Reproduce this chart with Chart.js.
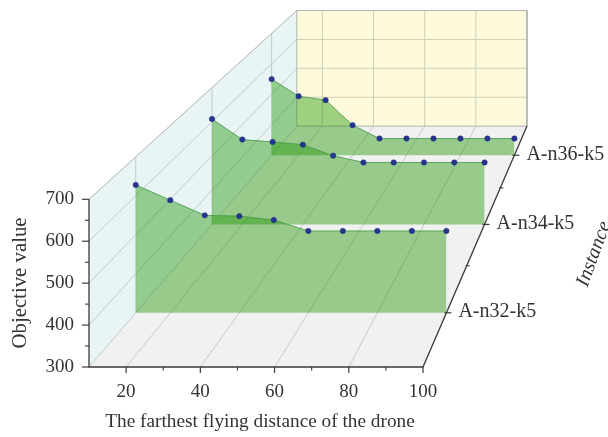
<!DOCTYPE html>
<html lang="en">
<head>
  <meta charset="UTF-8">
  <title>Objective value by drone distance</title>
  <script src="https://cdn.jsdelivr.net/npm/chart.js"></script>
  <style>
    html, body { margin: 0; padding: 0; background: #fff; }
    canvas { display: block; }
  </style>
</head>
<body>
  <canvas id="chart" width="608" height="437"></canvas>
  <script>
    // data
    const distances = [10, 20, 30, 40, 50, 60, 70, 80, 90, 100];
    const instances = ['A-n32-k5', 'A-n34-k5', 'A-n36-k5'];
    const n32 = [628, 589, 550, 548, 538, 510, 510, 510, 510, 510];
    const n34 = [608, 548, 541, 533, 501, 481, 481, 481, 481, 481];
    const n36 = [550, 494, 481, 399, 355, 355, 355, 355, 355, 355];
    const distanceTicks = [20, 40, 60, 80, 100];
    const distanceMinor = [30, 50, 70, 90];
    const valueTicks = [300, 400, 500, 600, 700];
    const valueMinor = [350, 450, 550, 650];

    // box limits and perspective of the 3d view
    const distMin = 10, distMax = 100, valMin = 300, valMax = 700;
    const left = 89, right = 423, bottom = 367, top3d = 199.3;
    const vanishX = 757.6, vanishY = -408, depthK = 0.451;

    function project(dist, depth, value) {
      const s = 1 / (1 + depthK * depth);
      const X = left + (dist - distMin) * (right - left) / (distMax - distMin);
      const Y = bottom - (value - valMin) * (bottom - top3d) / (valMax - valMin);
      return { x: vanishX + (X - vanishX) * s, y: vanishY + (Y - vanishY) * s };
    }
    // instance i sits in the middle of its third of the depth
    const depthOf = i => (i + 0.5) / instances.length;

    const datasets = [];
    function addLine(points, color, width) {
      datasets.push({ data: points, borderColor: color, borderWidth: width, pointRadius: 0, showLine: true, fill: false });
    }
    // filled area between an upper and a lower edge, both running left to right
    function addShape(upper, lower, color) {
      const edge = { borderColor: 'rgba(0,0,0,0)', borderWidth: 0, pointRadius: 0, showLine: true };
      datasets.push(Object.assign({ data: lower, fill: false }, edge));
      datasets.push(Object.assign({ data: upper, backgroundColor: color, fill: datasets.length - 1 }, edge));
    }

    const floorGrid = '#c9c9c9';
    const wallGrid = '#bccbcf';
    const backGrid = '#cfcfb4';
    const frameColor = '#aeb3b3';
    const axisColor = '#3a3a3a';

    // floor, side wall, back wall
    addShape([project(distMin, 0, valMin), project(distMin, 1, valMin), project(distMax, 1, valMin)],
      [project(distMin, 0, valMin), project(distMax, 0, valMin), project(distMax, 1, valMin)], '#f1f1f1');
    addShape([project(distMin, 0, valMax), project(distMin, 1, valMax)],
      [project(distMin, 0, valMin), project(distMin, 1, valMin)], '#e9f4f5');
    addShape([project(distMin, 1, valMax), project(distMax, 1, valMax)],
      [project(distMin, 1, valMin), project(distMax, 1, valMin)], '#fefbdd');

    // grid
    distanceTicks.slice(0, -1).forEach(d => {
      addLine([project(d, 0, valMin), project(d, 1, valMin)], floorGrid, 1);
      addLine([project(d, 1, valMin), project(d, 1, valMax)], backGrid, 1);
    });
    valueTicks.slice(1, -1).forEach(v => {
      addLine([project(distMin, 0, v), project(distMin, 1, v)], wallGrid, 1);
      addLine([project(distMin, 1, v), project(distMax, 1, v)], backGrid, 1);
    });
    instances.forEach((name, i) => {
      addLine([project(distMin, depthOf(i), valMin), project(distMin, depthOf(i), valMax)], wallGrid, 1);
    });
    // frame of the walls
    addLine([project(distMin, 0, valMin), project(distMin, 1, valMin)], wallGrid, 1);
    addLine([project(distMin, 0, valMax), project(distMin, 1, valMax), project(distMax, 1, valMax), project(distMax, 1, valMin)], frameColor, 1);
    addLine([project(distMin, 1, valMin), project(distMin, 1, valMax)], frameColor, 1);
    addLine([project(distMin, 1, valMin), project(distMax, 1, valMin)], frameColor, 1);

    // series, back one first
    [n36, n34, n32].forEach((values, k) => {
      const depth = depthOf(instances.length - 1 - k);
      const pts = distances.map((d, j) => project(d, depth, values[j]));
      datasets.push({
        data: pts, showLine: true, borderColor: 'rgba(70,155,70,0.85)', borderWidth: 1,
        backgroundColor: 'rgba(28,148,0,0.42)', fill: { value: project(distMin, depth, valMin).y },
        pointRadius: 2.7, pointBackgroundColor: '#27358f', pointBorderColor: '#222d80', pointBorderWidth: 0.5
      });
    });

    // axes and tick marks
    addLine([project(distMin, 0, valMax), project(distMin, 0, valMin), project(distMax, 0, valMin), project(distMax, 1, valMin)], axisColor, 1.3);
    const shift = (p, dx, dy) => ({ x: p.x + dx, y: p.y + dy });
    valueTicks.forEach(v => { const p = project(distMin, 0, v); addLine([p, shift(p, -7, 0)], axisColor, 1.2); });
    valueMinor.forEach(v => { const p = project(distMin, 0, v); addLine([p, shift(p, -4, 0)], axisColor, 1.1); });
    distanceTicks.forEach(d => { const p = project(d, 0, valMin); addLine([p, shift(p, 0, 6)], axisColor, 1.2); });
    distanceMinor.forEach(d => { const p = project(d, 0, valMin); addLine([p, shift(p, 0, 3.5)], axisColor, 1.1); });
    instances.forEach((name, i) => {
      const p = project(distMax, depthOf(i), valMin);
      addLine([shift(p, -2, 0), shift(p, 5, 0)], axisColor, 1.2);
    });
    [2, 4].forEach(n => {
      const p = project(distMax, n / 6, valMin);
      addLine([shift(p, -1, 0), shift(p, 3, 0)], axisColor, 1.1);
    });

    // tick labels and axis titles, as text
    const axisText = {
      id: 'axisText',
      afterDatasetsDraw(chart) {
        const { ctx, scales } = chart;
        const put = (text, p, dx, dy, align, angle, font) => {
          ctx.save();
          ctx.translate(scales.x.getPixelForValue(p.x) + dx, scales.y.getPixelForValue(p.y) + dy);
          ctx.rotate((angle || 0) * Math.PI / 180);
          ctx.font = font || '19px "Liberation Serif"';
          ctx.fillStyle = '#333';
          ctx.textAlign = align;
          ctx.textBaseline = 'middle';
          ctx.fillText(text, 0, 0);
          ctx.restore();
        };
        valueTicks.forEach(v => put(String(v), project(distMin, 0, v), -15, 0, 'right'));
        distanceTicks.forEach(d => put(String(d), project(d, 0, valMin), 0, 25, 'center'));
        instances.forEach((name, i) => put(name, project(distMax, depthOf(i), valMin), 12, -1, 'left', 0, '20px "Liberation Serif"'));
        put('The farthest flying distance of the drone', { x: 260, y: 422 }, 0, 0, 'center', 0, '19.3px "Liberation Serif"');
        put('Objective value', { x: 21, y: 283 }, 0, 0, 'center', -90, '20.8px "Liberation Serif"');
        put('Instance', { x: 594, y: 254 }, 0, 0, 'center', -70, 'italic 20px "Liberation Serif"');
      }
    };

    new Chart(document.getElementById('chart'), {
      type: 'scatter',
      data: { datasets: datasets.map((d, i) => Object.assign(d, { order: -i })) },
      plugins: [axisText],
      options: {
        responsive: false,
        animation: false,
        layout: { padding: 0, autoPadding: false },
        plugins: { legend: { display: false }, tooltip: { enabled: false } },
        scales: {
          x: { type: 'linear', display: false, min: 0, max: 608 },
          y: { type: 'linear', display: false, min: 0, max: 437, reverse: true }
        }
      }
    });
  </script>
</body>
</html>
